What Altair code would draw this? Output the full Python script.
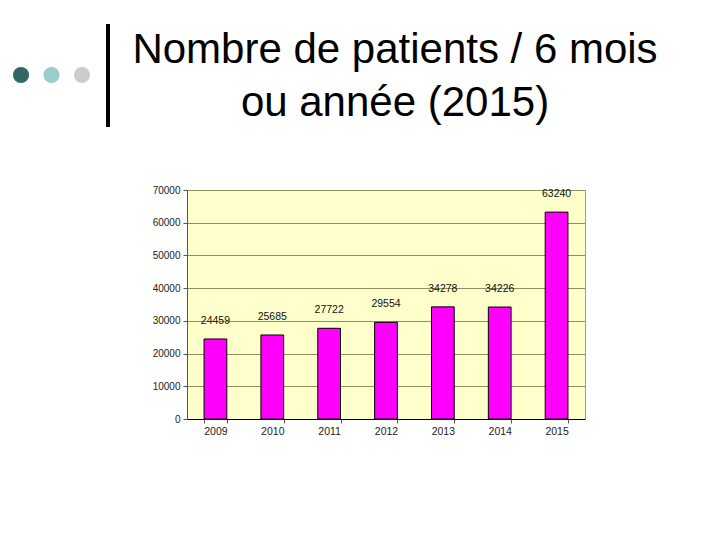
import altair as alt
import pandas as pd

years = ["2009", "2010", "2011", "2012", "2013", "2014", "2015"]
patients = [24459, 25685, 27722, 29554, 34278, 34226, 63240]
y_ticks = [0, 10000, 20000, 30000, 40000, 50000, 60000, 70000]
title_lines = ["Nombre de patients / 6 mois", "ou année (2015)"]
dot_colors = ["#336666", "#99CCCC", "#CCCCCC"]

df = pd.DataFrame({"year": years, "patients": patients})

W, H = 398, 229
PL, PT = 179, 182
PR = 720 - 16 - PL - W
PB = 540 - 16 - PT - H

x_enc = alt.X("year:N", title=None, sort=years,
              scale=alt.Scale(paddingInner=0.6, paddingOuter=0.3),
              axis=alt.Axis(labelAngle=0, labelFont="Liberation Sans", labelFontSize=10.5,
                            labelColor="#222222", domainColor="#000000", tickColor="#555555",
                            tickBand="extent", tickSize=4, labelPadding=3))
y_enc = alt.Y("patients:Q", title=None,
              scale=alt.Scale(domain=[0, 70000], nice=False),
              axis=alt.Axis(values=y_ticks, format="d", labelFont="Liberation Sans",
                            labelFontSize=10, labelColor="#222222", domainColor="#555555",
                            tickColor="#555555", tickSize=4, labelPadding=3, gridColor="#8F8F60",
                            gridOpacity=1, gridWidth=1, labelOverlap=False))

bars = alt.Chart(df).mark_bar(color="#FF00FF", stroke="#000000", strokeWidth=1).encode(
    x=x_enc, y=y_enc)

labels = alt.Chart(df).mark_text(dy=-18, font="Liberation Sans", fontSize=10.5,
                                 color="#111111").encode(
    x=x_enc, y=y_enc,
    text=alt.Text("patients:Q", format="d"))

base = alt.layer(bars, labels)

tdf = pd.DataFrame({"t": title_lines, "i": [0, 1]})
title = alt.Chart(tdf).mark_text(font="Liberation Sans", fontSize=42, color="#000000",
                                 align="center", baseline="middle").encode(
    x=alt.value(395 - 8 - PL),
    y=alt.Y("i:Q", scale=alt.Scale(domain=[0, 1], range=[50 - 8 - PT, 103 - 8 - PT]), axis=None),
    text="t:N")

ddf = pd.DataFrame({"c": dot_colors, "k": [0, 1, 2]})
dots = alt.Chart(ddf).mark_circle(size=260, opacity=1).encode(
    x=alt.X("k:Q", scale=alt.Scale(domain=[0, 2], range=[21 - 8 - PL, 82 - 8 - PL]), axis=None),
    y=alt.value(75 - 8 - PT),
    color=alt.Color("c:N", scale=None, legend=None))

vline = alt.Chart(pd.DataFrame({"a": [0]})).mark_rule(color="#000000", strokeWidth=4).encode(
    x=alt.value(108 - 8 - PL), y=alt.value(24 - 8 - PT), y2=alt.value(127 - 8 - PT))

chart = alt.layer(base, title, dots, vline).resolve_scale(
    x="independent", y="independent"
).properties(
    width=W, height=H,
    autosize=alt.AutoSizeParams(type="none"),
    padding={"left": PL, "top": PT, "right": PR, "bottom": PB},
    background="white"
).configure_view(fill="#FFFFCC", stroke="#999999", strokeWidth=1)

chart.save("out.html", embed_options={"renderer": "svg", "actions": False})
